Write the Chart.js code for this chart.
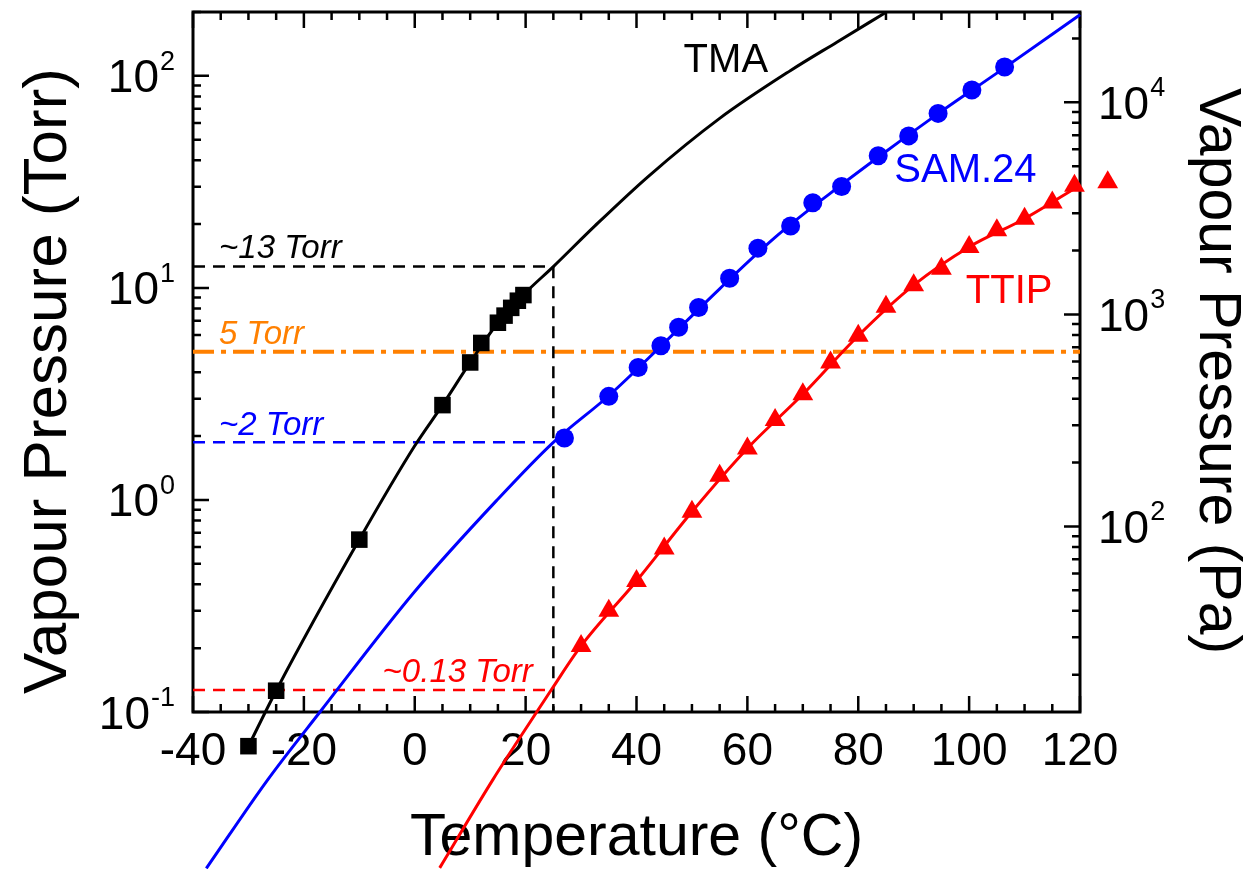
<!DOCTYPE html>
<html lang="en">
<head>
<meta charset="utf-8">
<title>Vapour Pressure</title>
<script src="https://cdn.jsdelivr.net/npm/chart.js@4.4.1/dist/chart.umd.min.js"></script>
<style>
  body { margin: 0; background: #fff; }
  canvas { display: block; }
</style>
</head>
<body>
<canvas id="graficoPressao" width="1253" height="869"></canvas>
<script>
// measured points (Temperature in °C, pressure in Torr)
const tmaTemp = [-30, -25, -10, 5, 10, 12, 15, 16.2, 17.4, 18.6, 19.6];
const tmaPress = [0.069, 0.126, 0.65, 2.8, 4.45, 5.5, 6.85, 7.4, 8.05, 8.7, 9.25];

const samTemp = [27.0, 35.0, 40.3, 44.4, 47.6, 51.2, 56.8, 61.9, 67.8, 71.8, 77.0, 83.6, 89.1, 94.4, 100.5, 106.4];
const samPress = [1.96, 3.08, 4.21, 5.34, 6.52, 8.09, 11.1, 15.4, 19.6, 25.2, 30.1, 42.0, 52.1, 66.5, 85.7, 110];

const ttipTemp = [30, 35, 40, 45, 50, 55, 60, 65, 70, 75, 80, 85, 90, 95, 100, 105, 110, 115, 119, 125];
const ttipPress = [0.205, 0.30, 0.415, 0.59, 0.88, 1.30, 1.75, 2.38, 3.15, 4.45, 5.95, 8.15, 10.3, 12.3, 15.6, 18.7, 21.2, 25.3, 30.3, 31.5];

// fitted curves
const tmaCurveTemp = [-30, -25, -10, 0, 5, 10, 15, 20, 25, 32.5, 42.1, 55, 67.8, 76.2, 84.8];
const tmaCurvePress = [0.069, 0.126, 0.65, 1.8, 2.8, 4.45, 6.85, 9.5, 12.6, 19.6, 33.5, 63, 106, 144.5, 198];

const samCurveTemp = [-37.6, -26.5, -17.1, 0, 14.7, 25, 35, 45, 55, 65, 75, 85, 95, 105, 120];
const samCurvePress = [0.0183, 0.048, 0.1, 0.37, 0.99, 1.87, 3.1, 5.5, 9.9, 17.3, 28, 44, 68, 103, 194];

const ttipCurveTemp = [4.5, 14.1, 22, 24.7, 30, 40, 50, 60, 70, 80, 90, 100, 110, 120];
const ttipCurvePress = [0.0184, 0.048, 0.1, 0.128, 0.205, 0.415, 0.88, 1.75, 3.15, 5.95, 10.3, 15.6, 21.2, 30.5];

// guide lines
const roomTemp = 25;
const tmaRef = 12.6;
const samRef = 1.87;
const ttipRef = 0.127;
const targetRef = 5;

// axis ticks
const xTicks = [-40, -20, 0, 20, 40, 60, 80, 100, 120];
const torrDecades = [-1, 0, 1, 2];
const paDecades = [2, 3, 4];

const TORR_TO_PA = 133.322;
const fonte = '"Liberation Sans", Arial, sans-serif';

const rotulos = [
  { texto: 'TMA', x: 48.5, y: 104, cor: '#000000', fonte: '40px ' + fonte },
  { texto: 'SAM.24', x: 86.5, y: 31.5, cor: '#0000ff', fonte: '40px ' + fonte },
  { texto: 'TTIP', x: 99.4, y: 8.5, cor: '#ff0000', fonte: '40px ' + fonte },
  { texto: '~13 Torr', x: -35.3, y: 13.8, cor: '#000000', fonte: 'italic 33px ' + fonte },
  { texto: '5 Torr', x: -35.3, y: 5.43, cor: '#ff8000', fonte: 'italic 33px ' + fonte },
  { texto: '~2 Torr', x: -35.3, y: 2.03, cor: '#0000ff', fonte: 'italic 33px ' + fonte },
  { texto: '~0.13 Torr', x: -5.8, y: 0.138, cor: '#ff0000', fonte: 'italic 33px ' + fonte }
];

function pontos(xs, ys) {
  return xs.map((x, i) => ({ x: x, y: ys[i] }));
}

function potencia(ctx, exp, px, py, alinhar) {
  ctx.font = '46px ' + fonte;
  let wBase = ctx.measureText('10').width;
  ctx.font = '27px ' + fonte;
  let wExp = ctx.measureText(String(exp)).width;
  let inicio = alinhar === 'right' ? px - wBase - wExp - 1 : px;
  ctx.textAlign = 'left';
  ctx.font = '46px ' + fonte;
  ctx.fillText('10', inicio, py + 16.5);
  ctx.font = '27px ' + fonte;
  ctx.fillText(String(exp), inicio + wBase + 1, py - 6);
}

const eixos = {
  id: 'eixos',
  beforeDatasetsDraw(chart) {
    const { ctx, chartArea: a } = chart;
    const x = chart.scales.x, y = chart.scales.y, yPa = chart.scales.yPa;
    ctx.save();
    ctx.strokeStyle = '#000';
    ctx.fillStyle = '#000';
    ctx.lineWidth = 2.5;
    ctx.beginPath();
    for (let t = -40; t <= 120; t += 5) {
      let px = x.getPixelForValue(t);
      let len = t % 20 === 0 ? 16 : 8;
      ctx.moveTo(px, a.bottom); ctx.lineTo(px, a.bottom - len);
      ctx.moveTo(px, a.top); ctx.lineTo(px, a.top + len);
    }
    for (let d = -1; d <= 2; d++) {
      for (let m = 1; m <= 9; m++) {
        let v = m * Math.pow(10, d);
        if (v < y.min || v > y.max) continue;
        let py = y.getPixelForValue(v);
        ctx.moveTo(a.left, py); ctx.lineTo(a.left + (m === 1 ? 16 : 8), py);
      }
    }
    for (let d = 1; d <= 4; d++) {
      for (let m = 1; m <= 9; m++) {
        let v = m * Math.pow(10, d);
        if (v < yPa.min || v > yPa.max) continue;
        let py = yPa.getPixelForValue(v);
        ctx.moveTo(a.right, py); ctx.lineTo(a.right - (m === 1 ? 16 : 8), py);
      }
    }
    ctx.stroke();
    ctx.lineWidth = 3;
    ctx.strokeRect(a.left, a.top, a.right - a.left, a.bottom - a.top);

    // tick labels
    ctx.font = '46px ' + fonte;
    ctx.textAlign = 'center';
    ctx.textBaseline = 'alphabetic';
    xTicks.forEach((t) => ctx.fillText(String(t), x.getPixelForValue(t), a.bottom + 53));
    torrDecades.forEach((d) => potencia(ctx, d, a.left - 18, y.getPixelForValue(Math.pow(10, d)), 'right'));
    paDecades.forEach((d) => potencia(ctx, d, a.right + 18, yPa.getPixelForValue(Math.pow(10, d)), 'left'));

    // axis titles
    ctx.font = '59px ' + fonte;
    ctx.textAlign = 'center';
    ctx.fillText('Temperature (°C)', (a.left + a.right) / 2, 855);
    ctx.save();
    ctx.translate(1200, 371);
    ctx.rotate(Math.PI / 2);
    ctx.fillText('Vapour Pressure (Pa)', 0, 0);
    ctx.restore();
    ctx.font = '62px ' + fonte;
    ctx.save();
    ctx.translate(66, 381);
    ctx.rotate(-Math.PI / 2);
    ctx.fillText('Vapour Pressure (Torr)', 0, 0);
    ctx.restore();
    ctx.restore();
  },
  afterDatasetsDraw(chart) {
    const { ctx, chartArea: a } = chart;
    const x = chart.scales.x, y = chart.scales.y;
    // markers that sit outside the frame (Chart.js skips them)
    const tudo = { left: -10000, top: -10000, right: 10000, bottom: 10000 };
    chart.data.datasets.forEach((ds, i) => {
      if (ds.showLine) return;
      chart.getDatasetMeta(i).data.forEach((el) => {
        let m = el.options.radius + 0.5;
        let dentro = el.x > a.left - m && el.x < a.right + m && el.y > a.top - m && el.y < a.bottom + m;
        if (!dentro) el.draw(ctx, tudo);
      });
    });
    ctx.save();
    ctx.textAlign = 'left';
    ctx.textBaseline = 'alphabetic';
    rotulos.forEach((r) => {
      ctx.font = r.fonte;
      ctx.fillStyle = r.cor;
      ctx.fillText(r.texto, x.getPixelForValue(r.x), y.getPixelForValue(r.y));
    });
    ctx.restore();
  }
};

function marcadores(xs, ys, estilo, raio, cor) {
  return {
    data: pontos(xs, ys),
    showLine: false,
    pointStyle: estilo,
    pointRadius: raio,
    pointHoverRadius: raio,
    pointBackgroundColor: cor,
    pointBorderWidth: 0,
    clip: false,
    order: 1
  };
}

function curva(xs, ys, cor) {
  return {
    data: pontos(xs, ys),
    showLine: true,
    borderColor: cor,
    borderWidth: 3,
    pointRadius: 0,
    pointHoverRadius: 0,
    cubicInterpolationMode: 'monotone',
    clip: false,
    order: 2
  };
}

function guia(pts, cor, tracejado, largura) {
  return {
    data: pts,
    showLine: true,
    borderColor: cor,
    borderWidth: largura,
    borderDash: tracejado,
    pointRadius: 0,
    pointHoverRadius: 0,
    tension: 0,
    order: 3
  };
}

const graficoPressao = new Chart(document.getElementById('graficoPressao'), {
  type: 'scatter',
  data: {
    datasets: [
      marcadores(tmaTemp, tmaPress, 'rect', 11.7, '#000000'),
      marcadores(samTemp, samPress, 'circle', 9.5, '#0000ff'),
      marcadores(ttipTemp, ttipPress, 'triangle', 12, '#ff0000'),
      curva(tmaCurveTemp, tmaCurvePress, '#000000'),
      curva(samCurveTemp, samCurvePress, '#0000ff'),
      curva(ttipCurveTemp, ttipCurvePress, '#ff0000'),
      guia([{ x: -40, y: tmaRef }, { x: roomTemp, y: tmaRef }, { x: roomTemp, y: 0.1 }], '#000000', [12, 8], 2.5),
      guia([{ x: -40, y: samRef }, { x: roomTemp, y: samRef }], '#0000ff', [12, 8], 2.5),
      guia([{ x: -40, y: ttipRef }, { x: roomTemp, y: ttipRef }], '#ff0000', [12, 8], 2.5),
      guia([{ x: -40, y: targetRef }, { x: 120, y: targetRef }], '#ff8000', [21, 7, 5, 7], 4)
    ]
  },
  options: {
    responsive: false,
    animation: false,
    events: [],
    layout: { padding: { left: 193, right: 173, top: 10, bottom: 157 } },
    plugins: { legend: { display: false }, tooltip: { enabled: false } },
    scales: {
      x: {
        type: 'linear',
        display: false,
        bounds: 'data',
        afterDataLimits: (scale) => { scale.min = -40; scale.max = 120; }
      },
      y: {
        type: 'logarithmic',
        display: false,
        bounds: 'data',
        min: 0.1,
        max: 200
      },
      yPa: {
        type: 'logarithmic',
        position: 'right',
        display: false,
        bounds: 'data',
        min: 0.1 * TORR_TO_PA,
        max: 200 * TORR_TO_PA
      }
    }
  },
  plugins: [eixos]
});
</script>
</body>
</html>
